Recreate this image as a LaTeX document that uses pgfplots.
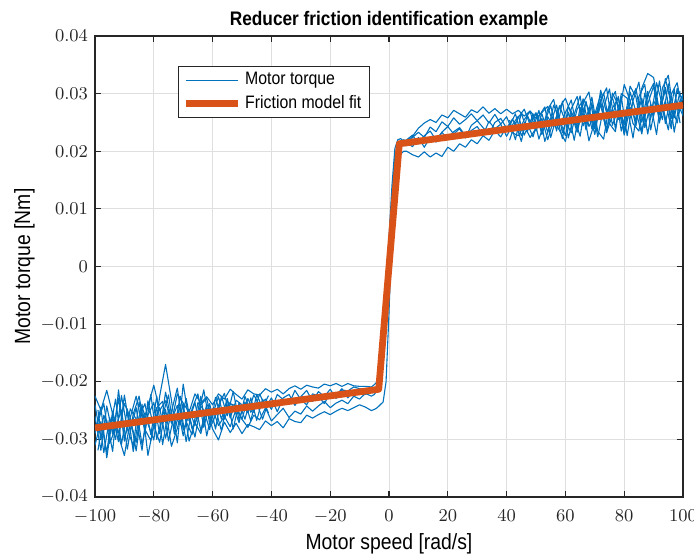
\documentclass[border=0pt]{standalone}
\usepackage{pgfplots}
\pgfplotsset{compat=1.18}
\usepackage{fontspec}
\setsansfont{Liberation Sans}[FakeStretch=0.88]
\definecolor{mblue}{RGB}{0,114,189}
\definecolor{morange}{RGB}{217,83,25}
\definecolor{maxis}{RGB}{38,38,38}
\definecolor{mgrid}{RGB}{223,223,223}
\begin{document}
\begin{tikzpicture}
\path[use as bounding box] (-47.5pt,-28.5pt) rectangle (299.5pt,248.5pt);
\begin{axis}[
  at={(0,0)}, anchor=south west,
  scale only axis, width=294pt, height=230.5pt,
  xmin=-100, xmax=100, ymin=-0.04, ymax=0.04,
  xtick={-100,-80,...,100},
  ytick={-0.04,-0.03,-0.02,-0.01,0,0.01,0.02,0.03,0.04},
  scaled y ticks=false,
  yticklabel style={/pgf/number format/fixed, /pgf/number format/precision=2},
  tick label style={font=\fontsize{9}{10}\selectfont, text=maxis},
  xticklabel style={yshift=-3pt},
  grid=major, grid style={mgrid, line width=0.5pt},
  axis line style={maxis, line width=0.6pt},
  major tick style={maxis, line width=0.6pt},
  tick align=inside, major tick length=2.8pt,
  xtick pos=both, ytick pos=both,
  title={Reducer friction identification example},
  title style={font=\sffamily\bfseries\fontsize{9.8}{11}\selectfont, at={(axis description cs:0.5,1)}, anchor=base, yshift=-0.5pt},
  xlabel={Motor speed [rad/s]},
  xlabel style={font=\sffamily\fontsize{11}{12}\selectfont, at={(axis description cs:0.5,0)}, anchor=base, yshift=-26pt},
  ylabel={Motor torque [Nm]},
  ylabel style={font=\sffamily\fontsize{11}{12}\selectfont, at={(axis description cs:-0.1105,0.5)}, anchor=base},
  legend style={at={(axis description cs:0.141,0.935)}, anchor=north west, draw=maxis, line width=0.5pt,
    font=\sffamily\fontsize{9}{10}\selectfont, inner xsep=2pt, inner ysep=1pt, row sep=0pt},
  legend cell align=left,
  legend image code/.code={\draw[#1] (0pt,0pt) -- (26pt,0pt);},
  every axis plot/.append style={line join=round},
]
\addplot[mblue, line width=0.55pt] coordinates {
(-100,-0.0225)(-98,-0.0249)(-96,-0.0215)(-94,-0.0256)(-92,-0.0289)(-90,-0.0238)(-88,-0.0262)(-86,-0.0225)(-84,-0.0274)(-82,-0.0243)
(-80,-0.0206)(-78,-0.0250)(-76,-0.0233)(-74,-0.0272)(-72,-0.0221)(-70,-0.0237)(-68,-0.0253)(-66,-0.0221)(-64,-0.0237)(-62,-0.0226)
(-60,-0.0240)(-58,-0.0221)(-56,-0.0230)(-54,-0.0213)(-52,-0.0222)(-50,-0.0230)(-48,-0.0214)(-46,-0.0221)(-44,-0.0223)(-42,-0.0212)
(-40,-0.0218)(-38,-0.0213)(-36,-0.0221)(-34,-0.0212)(-32,-0.0207)(-30,-0.0213)(-28,-0.0206)(-26,-0.0209)(-24,-0.0211)(-22,-0.0204)
(-20,-0.0207)(-18,-0.0203)(-16,-0.0208)(-14,-0.0203)(-12,-0.0207)(-10,-0.0208)(-8,-0.0208)(-6,-0.0209)
(-5,-0.0205)(-4,-0.0200)(-3,-0.0185)(-2,-0.0150)(-1,-0.0060)(0,0.0040)(1,0.0120)(2,0.0190)(3,0.0215)(4,0.0218)(5,0.0220)
(6,0.0217)(8,0.0226)(10,0.0240)(12,0.0249)(14,0.0255)(16,0.0250)(18,0.0263)(20,0.0258)(22,0.0271)(24,0.0265)
(26,0.0259)(28,0.0272)(30,0.0267)(32,0.0277)(34,0.0266)(36,0.0274)(38,0.0265)(40,0.0273)(42,0.0265)(44,0.0271)
(46,0.0261)(48,0.0270)(50,0.0257)(52,0.0267)(54,0.0278)(56,0.0245)(58,0.0276)(60,0.0292)(62,0.0264)(64,0.0240)
(66,0.0291)(68,0.0273)(70,0.0239)(72,0.0306)(74,0.0267)(76,0.0293)(78,0.0255)(80,0.0316)(82,0.0288)(84,0.0244)
(86,0.0310)(88,0.0335)(90,0.0328)(92,0.0269)(94,0.0306)(96,0.0257)(98,0.0304)(100,0.0290)
};
\addlegendentry{Motor torque}
\addplot[mblue, line width=0.55pt, forget plot] coordinates {
(-100,-0.0310)(-98,-0.0269)(-96,-0.0322)(-94,-0.0251)(-92,-0.0294)(-90,-0.0328)(-88,-0.0267)(-86,-0.0305)(-84,-0.0239)(-82,-0.0328)
(-80,-0.0276)(-78,-0.0305)(-76,-0.0248)(-74,-0.0312)(-72,-0.0281)(-70,-0.0239)(-68,-0.0303)(-66,-0.0271)(-64,-0.0290)(-62,-0.0244)
(-60,-0.0282)(-58,-0.0301)(-56,-0.0270)(-54,-0.0288)(-52,-0.0272)(-50,-0.0290)(-48,-0.0274)(-46,-0.0278)(-44,-0.0283)(-42,-0.0268)
(-40,-0.0276)(-38,-0.0269)(-36,-0.0280)(-34,-0.0264)(-32,-0.0269)(-30,-0.0271)(-28,-0.0258)(-26,-0.0263)(-24,-0.0257)(-22,-0.0252)
(-20,-0.0257)(-18,-0.0251)(-16,-0.0246)(-14,-0.0250)(-12,-0.0245)(-10,-0.0240)(-8,-0.0244)(-6,-0.0250)
(-5,-0.0248)(-4,-0.0245)(-3,-0.0240)(-2,-0.0235)(-1,-0.0200)(0,-0.0080)(1,0.0060)(2,0.0150)(3,0.0185)(4,0.0195)(5,0.0200)
(6,0.0200)(8,0.0194)(10,0.0190)(12,0.0199)(14,0.0190)(16,0.0197)(18,0.0191)(20,0.0207)(22,0.0200)(24,0.0213)
(26,0.0207)(28,0.0220)(30,0.0213)(32,0.0227)(34,0.0219)(36,0.0236)(38,0.0225)(40,0.0243)(42,0.0232)(44,0.0227)
(46,0.0245)(48,0.0224)(50,0.0240)(52,0.0257)(54,0.0220)(56,0.0255)(58,0.0236)(60,0.0217)(62,0.0266)(64,0.0233)
(66,0.0276)(68,0.0218)(70,0.0251)(72,0.0286)(74,0.0232)(76,0.0263)(78,0.0295)(80,0.0228)(82,0.0276)(84,0.0254)
(86,0.0292)(88,0.0230)(90,0.0288)(92,0.0264)(94,0.0311)(96,0.0247)(98,0.0284)(100,0.0262)
};
\addplot[mblue, line width=0.55pt, forget plot] coordinates {
(-100,-0.0260)(-98,-0.0319)(-96,-0.0242)(-94,-0.0291)(-92,-0.0229)(-90,-0.0298)(-88,-0.0262)(-86,-0.0320)(-84,-0.0244)(-82,-0.0273)
(-80,-0.0301)(-78,-0.0225)(-76,-0.0170)(-74,-0.0232)(-72,-0.0306)(-70,-0.0204)(-68,-0.0268)(-66,-0.0236)(-64,-0.0285)(-62,-0.0239)
(-60,-0.0257)(-58,-0.0226)(-56,-0.0265)(-54,-0.0238)(-52,-0.0242)(-50,-0.0265)(-48,-0.0229)(-46,-0.0253)(-44,-0.0221)(-42,-0.0245)
(-40,-0.0228)(-38,-0.0252)(-36,-0.0228)(-34,-0.0222)(-32,-0.0241)(-30,-0.0226)(-28,-0.0215)(-26,-0.0234)(-24,-0.0217)(-22,-0.0226)
(-20,-0.0213)(-18,-0.0229)(-16,-0.0214)(-14,-0.0216)(-12,-0.0209)(-10,-0.0212)(-8,-0.0214)(-6,-0.0219)
(-5,-0.0215)(-4,-0.0205)(-3,-0.0175)(-2,-0.0120)(-1,-0.0040)(0,0.0050)(1,0.0140)(2,0.0205)(3,0.0220)(4,0.0222)(5,0.0216)
(6,0.0220)(8,0.0228)(10,0.0213)(12,0.0227)(14,0.0235)(16,0.0220)(18,0.0233)(20,0.0243)(22,0.0230)(24,0.0239)
(26,0.0223)(28,0.0245)(30,0.0253)(32,0.0241)(34,0.0230)(36,0.0250)(38,0.0257)(40,0.0240)(42,0.0256)(44,0.0233)
(46,0.0255)(48,0.0269)(50,0.0235)(52,0.0265)(54,0.0233)(56,0.0280)(58,0.0256)(60,0.0227)(62,0.0274)(64,0.0295)
(66,0.0244)(68,0.0273)(70,0.0229)(72,0.0289)(74,0.0310)(76,0.0245)(78,0.0275)(80,0.0231)(82,0.0303)(84,0.0269)
(86,0.0230)(88,0.0297)(90,0.0318)(92,0.0252)(94,0.0288)(96,0.0239)(98,0.0309)(100,0.0288)
};
\addplot[mblue, line width=0.55pt, forget plot] coordinates {
(-100,-0.0290)(-98,-0.0244)(-96,-0.0332)(-94,-0.0261)(-92,-0.0304)(-90,-0.0223)(-88,-0.0287)(-86,-0.0245)(-84,-0.0309)(-82,-0.0258)
(-80,-0.0236)(-78,-0.0290)(-76,-0.0218)(-74,-0.0267)(-72,-0.0241)(-70,-0.0294)(-68,-0.0248)(-66,-0.0276)(-64,-0.0225)(-62,-0.0294)
(-60,-0.0247)(-58,-0.0276)(-56,-0.0260)(-54,-0.0278)(-52,-0.0247)(-50,-0.0265)(-48,-0.0279)(-46,-0.0258)(-44,-0.0266)(-42,-0.0245)
(-40,-0.0268)(-38,-0.0257)(-36,-0.0246)(-34,-0.0262)(-32,-0.0251)(-30,-0.0256)(-28,-0.0242)(-26,-0.0251)(-24,-0.0242)(-22,-0.0234)
(-20,-0.0245)(-18,-0.0237)(-16,-0.0232)(-14,-0.0238)(-12,-0.0225)(-10,-0.0230)(-8,-0.0220)(-6,-0.0225)
(-5,-0.0222)(-4,-0.0215)(-3,-0.0200)(-2,-0.0170)(-1,-0.0100)(0,-0.0010)(1,0.0090)(2,0.0170)(3,0.0205)(4,0.0212)(5,0.0210)
(6,0.0210)(8,0.0224)(10,0.0233)(12,0.0224)(14,0.0242)(16,0.0234)(18,0.0251)(20,0.0243)(22,0.0258)(24,0.0247)
(26,0.0255)(28,0.0265)(30,0.0253)(32,0.0263)(34,0.0249)(36,0.0264)(38,0.0247)(40,0.0260)(42,0.0235)(44,0.0259)
(46,0.0273)(48,0.0246)(50,0.0265)(52,0.0235)(54,0.0273)(56,0.0290)(58,0.0243)(60,0.0267)(62,0.0289)(64,0.0235)
(66,0.0284)(68,0.0303)(70,0.0244)(72,0.0281)(74,0.0234)(76,0.0301)(78,0.0280)(80,0.0246)(82,0.0313)(84,0.0294)
(86,0.0235)(88,0.0282)(90,0.0313)(92,0.0249)(94,0.0326)(96,0.0282)(98,0.0249)(100,0.0300)
};
\addplot[mblue, line width=0.55pt, forget plot] coordinates {
(-100,-0.0240)(-98,-0.0299)(-96,-0.0267)(-94,-0.0321)(-92,-0.0214)(-90,-0.0303)(-88,-0.0247)(-86,-0.0265)(-84,-0.0319)(-82,-0.0233)
(-80,-0.0281)(-78,-0.0245)(-76,-0.0298)(-74,-0.0252)(-72,-0.0211)(-70,-0.0284)(-68,-0.0258)(-66,-0.0296)(-64,-0.0240)(-62,-0.0229)
(-60,-0.0272)(-58,-0.0241)(-56,-0.0220)(-54,-0.0263)(-52,-0.0232)(-50,-0.0240)(-48,-0.0254)(-46,-0.0223)(-44,-0.0241)(-42,-0.0230)
(-40,-0.0248)(-38,-0.0222)(-36,-0.0231)(-34,-0.0239)(-32,-0.0215)(-30,-0.0231)(-28,-0.0240)(-26,-0.0221)(-24,-0.0225)(-22,-0.0238)
(-20,-0.0220)(-18,-0.0223)(-16,-0.0212)(-14,-0.0228)(-12,-0.0215)(-10,-0.0218)(-8,-0.0222)(-6,-0.0213)
(-5,-0.0212)(-4,-0.0208)(-3,-0.0195)(-2,-0.0160)(-1,-0.0080)(0,0.0010)(1,0.0100)(2,0.0180)(3,0.0212)(4,0.0215)(5,0.0218)
(6,0.0215)(8,0.0208)(10,0.0224)(12,0.0207)(14,0.0224)(16,0.0216)(18,0.0233)(20,0.0221)(22,0.0234)(24,0.0241)
(26,0.0227)(28,0.0236)(30,0.0243)(32,0.0228)(34,0.0252)(36,0.0239)(38,0.0247)(40,0.0226)(42,0.0246)(44,0.0261)
(46,0.0228)(48,0.0252)(50,0.0267)(52,0.0229)(54,0.0260)(56,0.0242)(58,0.0279)(60,0.0252)(62,0.0232)(64,0.0273)
(66,0.0288)(68,0.0243)(70,0.0264)(72,0.0299)(74,0.0237)(76,0.0275)(78,0.0293)(80,0.0236)(82,0.0286)(84,0.0309)
(86,0.0250)(88,0.0304)(90,0.0261)(92,0.0322)(94,0.0248)(96,0.0299)(98,0.0319)(100,0.0265)
};
% extra dense segments at high speed
\addplot[mblue, line width=0.55pt, forget plot] coordinates {
(-99,-0.0249)(-97,-0.0323)(-95,-0.0262)(-93,-0.0300)(-91,-0.0224)(-89,-0.0282)(-87,-0.0311)(-85,-0.0235)(-83,-0.0288)(-81,-0.0222)
(-79,-0.0300)(-77,-0.0259)(-75,-0.0223)(-73,-0.0291)(-71,-0.0240)(-69,-0.0304)(-67,-0.0247)(-65,-0.0221)(-63,-0.0279)(-61,-0.0238)
(-59,-0.0282)(-57,-0.0225)(-55,-0.0259)(-53,-0.0217)(-51,-0.0266)(-49,-0.0235)(-47,-0.0268)(-45,-0.0222)(-43,-0.0245)(-41,-0.0224)
};
\addplot[mblue, line width=0.55pt, forget plot] coordinates {
(-99,-0.0319)(-97,-0.0258)(-95,-0.0287)(-93,-0.0230)(-91,-0.0309)(-89,-0.0247)(-87,-0.0321)(-85,-0.0260)(-83,-0.0238)(-81,-0.0292)
(-79,-0.0225)(-77,-0.0309)(-75,-0.0248)(-73,-0.0281)(-71,-0.0225)(-69,-0.0269)(-67,-0.0292)(-65,-0.0236)(-63,-0.0249)(-61,-0.0283)
(-59,-0.0227)(-57,-0.0265)(-55,-0.0229)(-53,-0.0282)(-51,-0.0236)(-49,-0.0265)(-47,-0.0228)(-45,-0.0267)(-43,-0.0230)(-41,-0.0254)
};
\addplot[mblue, line width=0.55pt, forget plot] coordinates {
(-99,-0.0269)(-97,-0.0238)(-95,-0.0307)(-93,-0.0280)(-91,-0.0249)(-89,-0.0317)(-87,-0.0256)(-85,-0.0225)(-83,-0.0283)(-81,-0.0302)
(-79,-0.0245)(-77,-0.0234)(-75,-0.0303)(-73,-0.0256)(-71,-0.0275)(-69,-0.0229)(-67,-0.0282)(-65,-0.0261)(-63,-0.0214)(-61,-0.0273)
(-59,-0.0247)(-57,-0.0285)(-55,-0.0234)(-53,-0.0242)(-51,-0.0271)(-49,-0.0225)(-47,-0.0253)(-45,-0.0237)(-43,-0.0265)(-41,-0.0234)
};
\addplot[mblue, line width=0.55pt, forget plot] coordinates {
(41,0.0254)(43,0.0220)(45,0.0267)(47,0.0233)(49,0.0265)(51,0.0221)(53,0.0252)(55,0.0279)(57,0.0235)(59,0.0287)
(61,0.0223)(63,0.0264)(65,0.0296)(67,0.0237)(69,0.0284)(71,0.0225)(73,0.0276)(75,0.0308)(77,0.0239)(79,0.0295)
(81,0.0227)(83,0.0288)(85,0.0320)(87,0.0241)(89,0.0282)(91,0.0229)(93,0.0310)(95,0.0332)(97,0.0258)(99,0.0304)
};
\addplot[mblue, line width=0.55pt, forget plot] coordinates {
(41,0.0219)(43,0.0250)(45,0.0217)(47,0.0263)(49,0.0240)(51,0.0271)(53,0.0217)(55,0.0249)(57,0.0280)(59,0.0232)
(61,0.0268)(63,0.0219)(65,0.0276)(67,0.0247)(69,0.0294)(71,0.0235)(73,0.0221)(75,0.0283)(77,0.0304)(79,0.0235)
(81,0.0277)(83,0.0223)(85,0.0295)(87,0.0316)(89,0.0237)(91,0.0289)(93,0.0255)(95,0.0317)(97,0.0233)(99,0.0289)
};
\addplot[mblue, line width=0.55pt, forget plot] coordinates {
(41,0.0244)(43,0.0265)(45,0.0227)(47,0.0248)(49,0.0225)(51,0.0261)(53,0.0277)(55,0.0224)(57,0.0260)(59,0.0222)
(61,0.0278)(63,0.0259)(65,0.0226)(67,0.0287)(69,0.0239)(71,0.0275)(73,0.0301)(75,0.0248)(77,0.0234)(79,0.0300)
(81,0.0292)(83,0.0248)(85,0.0235)(87,0.0301)(89,0.0257)(91,0.0319)(93,0.0280)(95,0.0237)(97,0.0308)(99,0.0249)
};
\addplot[morange, line width=3.4pt] coordinates {(-100,-0.0280)(-3.5,-0.0213)(3.5,0.0213)(100,0.0280)};
\addlegendentry{Friction model fit}
\end{axis}
\end{tikzpicture}
\end{document}
